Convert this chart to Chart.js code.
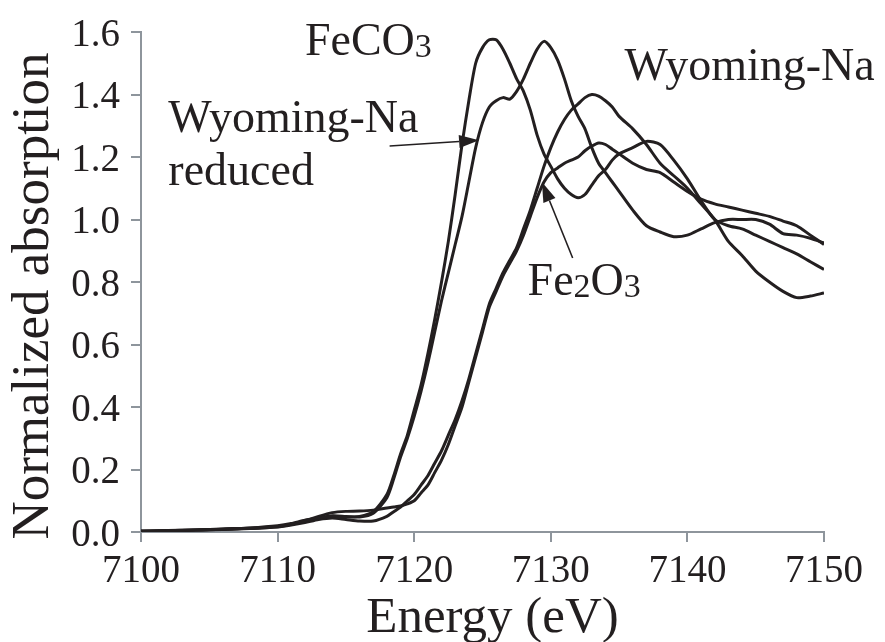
<!DOCTYPE html>
<html>
<head>
<meta charset="utf-8">
<script src="https://cdn.jsdelivr.net/npm/chart.js@4.4.1/dist/chart.umd.min.js"></script>
<style>
  html, body { margin: 0; padding: 0; background: #fff; }
</style>
</head>
<body>
<canvas id="xanes" width="885" height="642"></canvas>
<script>
// energy grid (eV), shared by all spectra
const energy = [
  7100, 7102, 7104, 7106, 7108, 7110, 7111, 7112, 7113, 7114, 7115, 7116, 7117,
  7118, 7118.5, 7119, 7119.5, 7120, 7120.5, 7121, 7121.5, 7122, 7122.5, 7123, 7123.5,
  7124, 7124.5, 7125, 7125.5, 7126, 7126.5, 7127, 7127.5, 7128, 7128.5, 7129, 7129.5,
  7130, 7130.5, 7131, 7131.5, 7132, 7132.5, 7133, 7133.5, 7134, 7134.5, 7135,
  7136, 7137, 7138, 7139, 7140, 7141, 7142, 7143, 7144, 7145, 7146, 7147, 7148, 7149, 7150
];

const feco3 = [
  0.003, 0.005, 0.006, 0.010, 0.012, 0.018, 0.025, 0.035, 0.045, 0.050, 0.048, 0.050, 0.065,
  0.12, 0.18, 0.25, 0.31, 0.39, 0.47, 0.57, 0.68, 0.80, 0.93, 1.08, 1.24,
  1.38, 1.50, 1.55, 1.575, 1.575, 1.545, 1.50, 1.45, 1.41, 1.35, 1.27, 1.21,
  1.17, 1.13, 1.10, 1.08, 1.07, 1.08, 1.11, 1.14, 1.16, 1.19, 1.21,
  1.23, 1.25, 1.24, 1.19, 1.13, 1.06, 1.00, 0.98, 0.97, 0.95, 0.93, 0.91, 0.89, 0.865, 0.84
];

const wyomingReduced = [
  0.002, 0.004, 0.007, 0.009, 0.013, 0.020, 0.027, 0.038, 0.045, 0.052, 0.050, 0.048, 0.060,
  0.11, 0.17, 0.24, 0.30, 0.37, 0.45, 0.54, 0.64, 0.74, 0.83, 0.92, 1.01,
  1.12, 1.23, 1.31, 1.36, 1.38, 1.39, 1.385, 1.41, 1.45, 1.50, 1.545, 1.57,
  1.55, 1.51, 1.45, 1.38, 1.33, 1.29, 1.23, 1.18, 1.15, 1.12, 1.09,
  1.03, 0.98, 0.96, 0.945, 0.95, 0.97, 0.99, 1.00, 1.00, 1.00, 0.985, 0.955, 0.95, 0.94, 0.925
];

const fe2o3 = [
  0.000, 0.004, 0.006, 0.009, 0.012, 0.017, 0.025, 0.035, 0.050, 0.062, 0.066, 0.067, 0.070,
  0.077, 0.080, 0.083, 0.090, 0.100, 0.125, 0.15, 0.19, 0.23, 0.28, 0.34, 0.40,
  0.48, 0.56, 0.64, 0.72, 0.77, 0.82, 0.86, 0.90, 0.95, 1.01, 1.07, 1.12,
  1.15, 1.165, 1.18, 1.19, 1.20, 1.22, 1.235, 1.245, 1.24, 1.225, 1.21,
  1.18, 1.16, 1.15, 1.12, 1.09, 1.065, 1.05, 1.04, 1.03, 1.02, 1.01, 0.995, 0.98, 0.95, 0.92
];

const wyomingNa = [
  0.002, 0.003, 0.006, 0.008, 0.011, 0.016, 0.022, 0.030, 0.040, 0.045, 0.040, 0.035, 0.035,
  0.050, 0.065, 0.080, 0.100, 0.12, 0.15, 0.18, 0.22, 0.26, 0.31, 0.36, 0.42,
  0.49, 0.57, 0.65, 0.73, 0.78, 0.83, 0.87, 0.91, 0.97, 1.03, 1.10, 1.17,
  1.23, 1.28, 1.32, 1.35, 1.37, 1.39, 1.40, 1.395, 1.38, 1.36, 1.33,
  1.29, 1.24, 1.18, 1.14, 1.10, 1.05, 1.00, 0.93, 0.885, 0.835, 0.80, 0.77, 0.75, 0.755, 0.765
];

const xRange = [7100, 7150];
const yRange = [0, 1.6];
const xStep = 10;
const yStep = 0.2;

const xTitle = 'Energy (eV)';
const yTitle = 'Normalized absorption';

// text labels in data coordinates (left edge, baseline); parts = [text, size, baseline shift]
const notes = [
  { x: 7112.0, y: 1.525, parts: [['FeCO', 46, 0], ['3', 34, 2]] },
  { x: 7135.4, y: 1.446, parts: [['Wyoming-Na', 46, 0]] },
  { x: 7102.0, y: 1.28, parts: [['Wyoming-Na', 46, 0]] },
  { x: 7102.0, y: 1.11, parts: [['reduced', 46, 0]] },
  { x: 7128.3, y: 0.758, parts: [['Fe', 46, 0], ['2', 34, 2], ['O', 46, 0], ['3', 34, 2]] },
];

const arrows = [
  { from: [7118.2, 1.235], to: [7124.75, 1.254] },
  { from: [7131.6, 0.877], to: [7129.35, 1.12] },
];

const INK = '#231f20';
const AXIS = '#8e959c';
const SERIF = '"Liberation Serif", "Times New Roman", serif';

const toPoints = (vals) => energy.map((e, i) => ({ x: e, y: vals[i] }));

const spectrum = (label, vals) => ({
  label,
  data: toPoints(vals),
  borderColor: INK,
  borderWidth: 3,
  pointRadius: 0,
  tension: 0.25,
  fill: false,
});

const drawRich = (ctx, x, y, parts) => {
  let cx = x;
  parts.forEach(([txt, size, dy]) => {
    ctx.font = `${size}px ${SERIF}`;
    ctx.fillText(txt, cx, y + dy);
    cx += ctx.measureText(txt).width;
  });
};

const textPlugin = {
  id: 'textPlugin',
  afterDraw(chart) {
    const { ctx, scales: { x, y }, chartArea } = chart;
    ctx.save();
    ctx.fillStyle = INK;

    // tick labels
    ctx.font = `39px ${SERIF}`;
    ctx.textAlign = 'right';
    ctx.textBaseline = 'alphabetic';
    y.ticks.forEach((t) => {
      const py = y.getPixelForValue(t.value);
      ctx.fillText(t.value.toFixed(1), chartArea.left - 21, py + 13.5);
    });
    ctx.textAlign = 'center';
    x.ticks.forEach((t) => {
      const px = x.getPixelForValue(t.value);
      ctx.fillText(String(t.value), px, chartArea.bottom + 50);
    });

    // axis titles
    ctx.font = `51px ${SERIF}`;
    ctx.fillText(xTitle, (chartArea.left + chartArea.right) / 2 + 10, 632);
    ctx.save();
    ctx.font = `53px ${SERIF}`;
    ctx.translate(48, 296);
    ctx.rotate(-Math.PI / 2);
    ctx.fillText(yTitle, 0, 0);
    ctx.restore();

    // annotations
    ctx.textAlign = 'left';
    notes.forEach((n) => {
      drawRich(ctx, x.getPixelForValue(n.x), y.getPixelForValue(n.y), n.parts);
    });

    // arrows
    ctx.strokeStyle = INK;
    ctx.lineWidth = 1.6;
    arrows.forEach((a) => {
      const x0 = x.getPixelForValue(a.from[0]);
      const y0 = y.getPixelForValue(a.from[1]);
      const x1 = x.getPixelForValue(a.to[0]);
      const y1 = y.getPixelForValue(a.to[1]);
      const ang = Math.atan2(y1 - y0, x1 - x0);
      const len = 20;
      const half = 6.5;
      const bx = x1 - len * Math.cos(ang);
      const by = y1 - len * Math.sin(ang);
      ctx.beginPath();
      ctx.moveTo(x0, y0);
      ctx.lineTo(bx, by);
      ctx.stroke();
      ctx.beginPath();
      ctx.moveTo(x1, y1);
      ctx.lineTo(bx + half * Math.sin(ang), by - half * Math.cos(ang));
      ctx.lineTo(bx - half * Math.sin(ang), by + half * Math.cos(ang));
      ctx.closePath();
      ctx.fill();
    });
    ctx.restore();
  }
};

const axisGrid = {
  drawOnChartArea: false,
  drawTicks: true,
  tickLength: 10,
  color: AXIS,
  lineWidth: 2,
};

new Chart(document.getElementById('xanes'), {
  type: 'line',
  data: {
    datasets: [
      spectrum('FeCO3', feco3),
      spectrum('Wyoming-Na reduced', wyomingReduced),
      spectrum('Fe2O3', fe2o3),
      spectrum('Wyoming-Na', wyomingNa),
    ]
  },
  options: {
    responsive: false,
    animation: false,
    devicePixelRatio: 1,
    layout: { padding: { top: 32, right: 61, left: 0, bottom: 0 } },
    plugins: { legend: { display: false }, tooltip: { enabled: false } },
    scales: {
      x: {
        type: 'linear',
        min: xRange[0],
        max: xRange[1],
        ticks: { stepSize: xStep, display: false },
        grid: axisGrid,
        border: { display: true, color: AXIS, width: 2 },
        afterFit: (s) => { s.height = 110; },
      },
      y: {
        min: yRange[0],
        max: yRange[1],
        ticks: { stepSize: yStep, display: false },
        grid: axisGrid,
        border: { display: true, color: AXIS, width: 2 },
        afterFit: (s) => { s.width = 141; },
      }
    }
  },
  plugins: [textPlugin]
});
</script>
</body>
</html>
